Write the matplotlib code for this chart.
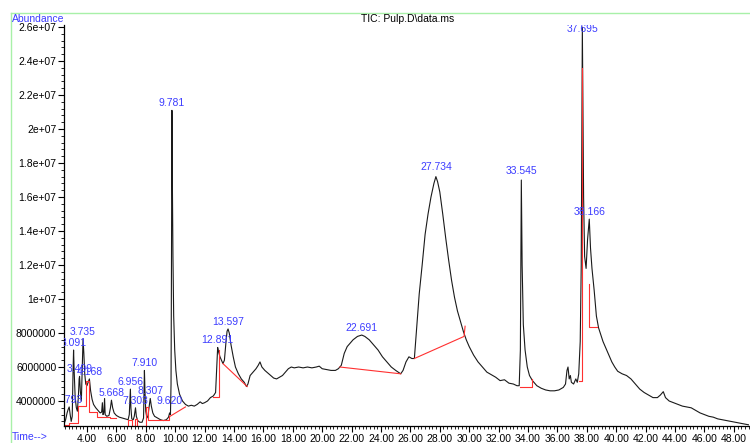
import matplotlib
matplotlib.use('Agg')
import matplotlib.pyplot as plt
import matplotlib.transforms as mtransforms
from matplotlib.lines import Line2D
from matplotlib.ticker import FixedLocator, FixedFormatter, MultipleLocator

plt.rcParams['font.family'] = ['Liberation Sans', 'DejaVu Sans']

# TIC trace: retention time (min) and abundance (millions)
time_min = [
    2.43, 2.55, 2.65, 2.72, 2.793, 2.86, 2.93, 3.00, 3.05, 3.091, 3.13, 3.20, 3.28, 3.35,
    3.42, 3.47, 3.499, 3.55, 3.62, 3.68, 3.735, 3.79, 3.85, 3.92, 4.00, 4.08, 4.168, 4.25,
    4.35, 4.45, 4.6, 4.75, 4.9, 5.0, 5.05, 5.09, 5.15, 5.2, 5.24, 5.35, 5.5, 5.6, 5.668,
    5.75, 5.85, 6.0, 6.2, 6.4, 6.6, 6.8, 6.88, 6.92, 6.956, 6.99, 7.05, 7.15, 7.22, 7.303,
    7.36, 7.45, 7.6, 7.75, 7.85, 7.88, 7.910, 7.95, 8.0, 8.08, 8.15, 8.22, 8.307, 8.38,
    8.48, 8.6, 8.8, 9.0, 9.2, 9.4, 9.55, 9.620, 9.68, 9.72, 9.75, 9.781, 9.81, 9.85, 9.9,
    9.97, 10.05, 10.15, 10.3, 10.5, 10.7, 10.9, 11.1, 11.3, 11.5, 11.7, 11.85, 12.0, 12.2,
    12.4, 12.6, 12.75, 12.82, 12.891, 12.95, 13.05, 13.15, 13.25, 13.35, 13.45, 13.53,
    13.597, 13.68, 13.8, 13.95, 14.1, 14.3, 14.5, 14.7, 14.85, 14.95, 15.1, 15.3, 15.5,
    15.65, 15.77, 15.9, 16.1, 16.3, 16.5, 16.7, 16.9, 17.1, 17.3, 17.5, 17.7, 17.9, 18.1,
    18.4, 18.7, 19.0, 19.3, 19.6, 19.8, 20.0, 20.3, 20.6, 20.9, 21.1, 21.3, 21.5, 21.7,
    21.9, 22.1, 22.4, 22.691, 22.9, 23.2, 23.5, 23.8, 24.1, 24.4, 24.7, 25.0, 25.34, 25.5,
    25.7, 25.9, 26.1, 26.27, 26.4, 26.6, 26.8, 27.0, 27.2, 27.4, 27.6, 27.734, 27.85, 28.0,
    28.2, 28.4, 28.6, 28.8, 29.0, 29.2, 29.4, 29.6, 29.8, 30.0, 30.3, 30.6, 30.9, 31.2,
    31.5, 31.8, 32.1, 32.4, 32.7, 33.0, 33.25, 33.4, 33.48, 33.545, 33.6, 33.68, 33.8,
    33.95, 34.1, 34.3, 34.6, 34.9, 35.2, 35.5, 35.8, 36.1, 36.4, 36.55, 36.65, 36.72, 36.8,
    36.88, 36.95, 37.1, 37.25, 37.35, 37.45, 37.55, 37.62, 37.66, 37.695, 37.73, 37.78,
    37.85, 37.95, 38.05, 38.166, 38.25, 38.35, 38.5, 38.65, 38.8, 38.95, 39.1, 39.3, 39.5,
    39.7, 39.9, 40.1, 40.4, 40.7, 41.0, 41.3, 41.6, 41.9, 42.2, 42.5, 42.8, 43.0, 43.2,
    43.35, 43.6, 43.9, 44.2, 44.5, 44.8, 45.1, 45.4, 45.7, 46.0, 46.3, 46.6, 46.9, 47.2,
    47.5, 47.8, 48.1, 48.4, 48.7, 49.0,
]
abund_m = [
    2.62, 2.9, 3.3, 3.5, 3.65, 3.2, 2.8, 3.1, 5.5, 7.0, 5.8, 4.2, 3.6, 3.4,
    4.3, 5.3, 5.45, 4.6, 4.0, 5.8, 7.65, 6.8, 5.6, 5.0, 4.9, 5.1, 5.3, 4.6,
    4.1, 3.8, 3.6, 3.45, 3.3, 3.35, 3.9, 3.2, 3.3, 4.15, 3.2, 3.1, 3.15, 3.6, 4.05,
    3.6, 3.3, 3.15, 3.05, 3.0, 2.95, 2.9, 3.2, 4.0, 4.7, 3.6, 2.95, 2.9, 3.1, 3.6,
    3.1, 2.85, 2.75, 2.75, 3.0, 4.5, 5.8, 4.5, 3.4, 3.0, 3.1, 3.6, 4.15, 3.7,
    3.3, 3.1, 3.0, 2.9, 2.85, 2.9, 3.05, 3.3, 3.2, 5.0, 12.0, 21.1, 17.0, 12.5, 9.0,
    7.0, 5.8, 5.0, 4.4, 4.0, 3.8, 3.7, 3.75, 3.7, 3.8, 3.95, 3.85, 3.9, 4.0,
    4.2, 4.3, 4.5, 5.8, 7.15, 6.9, 6.6, 6.4, 6.2, 6.4, 7.4, 8.1,
    8.24, 8.0, 7.3, 6.6, 6.0, 5.6, 5.3, 5.1, 4.85, 5.0, 5.5, 5.7, 5.9,
    6.1, 6.3, 6.0, 5.8, 5.65, 5.5, 5.35, 5.3, 5.4, 5.5, 5.7, 5.9, 6.0, 5.95,
    6.0, 5.95, 6.0, 5.95, 6.0, 6.05, 5.9, 5.85, 5.8, 5.8, 5.9, 6.1, 6.8, 7.2,
    7.4, 7.6, 7.8, 7.88, 7.8, 7.6, 7.3, 7.0, 6.6, 6.3, 6.0, 5.8, 5.6, 5.8,
    6.3, 6.6, 6.5, 6.5, 8.0, 10.3, 12.0, 13.8, 15.0, 16.0, 16.8, 17.2, 16.9, 16.3,
    15.0, 13.6, 12.3, 11.1, 10.1, 9.3, 8.7, 8.1, 7.6, 7.2, 6.7, 6.3, 6.0, 5.7,
    5.55, 5.4, 5.2, 5.25, 5.05, 5.0, 4.9, 4.9, 7.0, 17.0, 12.0, 8.5, 7.0,
    6.0, 5.5, 5.2, 4.9, 4.75, 4.65, 4.6, 4.6, 4.65, 4.8, 5.0, 5.8, 6.0, 5.3,
    5.5, 5.1, 5.0, 5.3, 5.1, 5.6, 7.5, 12.0, 20.0, 26.0, 22.0, 16.0,
    12.5, 11.8, 13.5, 14.7, 13.0, 11.8, 10.5, 9.0, 8.3, 7.9, 7.5, 7.1, 6.7,
    6.3, 6.0, 5.75, 5.6, 5.5, 5.3, 5.0, 4.7, 4.5, 4.35, 4.2, 4.2, 4.35, 4.55,
    4.2, 4.0, 3.9, 3.8, 3.7, 3.65, 3.6, 3.45, 3.3, 3.2, 3.1, 3.05, 2.95, 2.9,
    2.85, 2.8, 2.75, 2.7, 2.65, 2.6,
]

# labelled peaks
peak_rt = [2.793, 3.091, 3.499, 3.735, 4.168, 5.668, 6.956, 7.303, 7.910, 8.307,
           9.620, 9.781, 12.891, 13.597, 22.691, 27.734, 33.545, 37.695, 38.166]
peak_abund_m = [3.65, 7.0, 5.47, 7.65, 5.3, 4.06, 4.7, 3.6, 5.8, 4.18,
                3.6, 21.1, 7.18, 8.24, 7.88, 17.35, 17.1, 25.45, 14.7]

# integration baselines (time, abundance in millions)
baselines = [
    [(2.45, 2.58), (2.75, 2.58), (2.75, 2.72), (3.38, 2.72), (3.38, 3.7), (3.93, 3.7),
     (3.93, 5.2), (4.12, 5.2), (4.12, 3.35), (4.7, 3.35), (4.7, 3.05), (5.55, 3.05),
     (5.55, 3.0), (5.95, 3.0)],
    [(6.8, 2.55), (6.8, 2.9), (7.05, 2.9), (7.05, 2.55), (7.25, 2.55), (7.25, 2.95),
     (7.42, 2.95), (7.42, 2.55), (8.0, 2.55), (8.0, 3.65), (8.18, 3.65), (8.18, 2.9),
     (9.55, 2.9), (9.55, 3.1)],
    [(9.65, 3.1), (10.7, 3.65)],
    [(12.6, 4.25), (12.98, 4.25), (12.98, 7.0)],
    [(13.25, 6.2), (14.9, 4.85)],
    [(21.2, 6.0), (25.34, 5.6)],
    [(26.27, 6.5), (29.65, 7.8), (29.72, 8.4)],
    [(33.45, 4.85), (34.25, 4.85), (34.25, 5.3)],
    [(37.45, 5.2), (37.68, 5.2), (37.68, 23.6)],
    [(38.12, 10.9), (38.12, 8.35), (38.7, 8.35)],
]

x_ticks = list(range(4, 50, 2))
x_labels = ['%.2f' % t for t in x_ticks]
y_ticks = [4e6, 6e6, 8e6, 1e7, 1.2e7, 1.4e7, 1.6e7, 1.8e7, 2e7, 2.2e7, 2.4e7, 2.6e7]
y_labels = ['4000000', '6000000', '8000000', '1e+07', '1.2e+07', '1.4e+07', '1.6e+07',
            '1.8e+07', '2e+07', '2.2e+07', '2.4e+07', '2.6e+07']

blue = '#3c3cff'
W, H = 750, 443

fig = plt.figure(figsize=(7.5, 4.43), dpi=100)
ax = fig.add_axes([64 / W, 1 - 426 / H, (749 - 64) / W, (426 - 25) / H])

ax.plot(time_min, [v * 1e6 for v in abund_m], color='#1a1a1a', lw=0.8)
for seg in baselines:
    ax.plot([p[0] for p in seg], [p[1] * 1e6 for p in seg], color='#ff3030', lw=0.8)

off = mtransforms.offset_copy(ax.transData, fig=fig, x=0, y=1.5, units='points')
for rt, v in zip(peak_rt, peak_abund_m):
    t = ax.text(rt, v * 1e6, '%.3f' % rt, transform=off, ha='center', va='bottom',
                color=blue, fontsize=7.5)
    t.set_clip_box(ax.bbox)
    t.set_clip_on(True)

ax.set_xlim(2.44, 49.03)
ax.set_ylim(2.53e6, 2.612e7)

for s in ['top', 'right']:
    ax.spines[s].set_visible(False)
for s in ['left', 'bottom']:
    ax.spines[s].set_linewidth(0.9)

ax.xaxis.set_major_locator(FixedLocator(x_ticks))
ax.xaxis.set_major_formatter(FixedFormatter(x_labels))
ax.xaxis.set_minor_locator(MultipleLocator(0.25))
ax.yaxis.set_major_locator(FixedLocator(y_ticks))
ax.yaxis.set_major_formatter(FixedFormatter(y_labels))
ax.yaxis.set_minor_locator(MultipleLocator(4e5))
ax.tick_params(which='major', direction='out', length=4, width=0.8, labelsize=7.5, pad=1.5)
ax.tick_params(which='minor', direction='out', length=2, width=0.6)

# frame lines, title and corner labels
green = '#a8f0a8'
fig.add_artist(Line2D([11 / W, 1], [1 - 13 / H, 1 - 13 / H], transform=fig.transFigure, color=green, lw=1))
fig.add_artist(Line2D([11 / W, 11 / W], [0, 1 - 13 / H], transform=fig.transFigure, color=green, lw=1))
fig.text(408 / W, 1 - 19 / H, 'TIC: Pulp.D\\data.ms', ha='center', va='center', fontsize=7.5)
fig.text(12 / W, 1 - 19 / H, 'Abundance', ha='left', va='center', fontsize=7.5, color=blue)
fig.text(12 / W, 1 - 437.5 / H, 'Time-->', ha='left', va='center', fontsize=7.5, color=blue)

fig.savefig('out.png', dpi=100)
